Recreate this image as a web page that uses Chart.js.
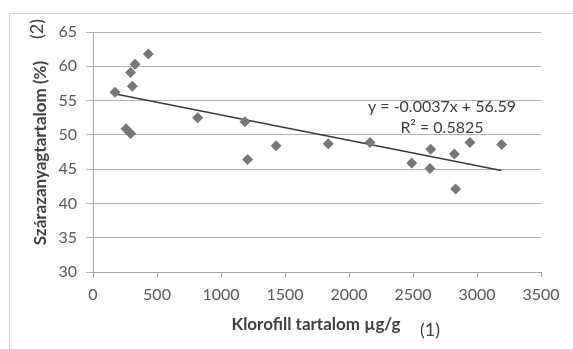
<!DOCTYPE html>
<html>
<head>
<meta charset="utf-8">
<script src="https://cdn.jsdelivr.net/npm/chart.js@4"></script>
<style>
  html, body { margin: 0; padding: 0; background: #fff; }
  #wrap { width: 573px; height: 349px; position: relative; }
</style>
</head>
<body>
<div id="wrap"><canvas id="chart"></canvas></div>
<script>
// chlorophyll (µg/g) vs dry matter (%)
const klorofill = [172, 258, 294, 294, 307, 328, 432, 818, 1187, 1208, 1430, 1838, 2164, 2490, 2633, 2638, 2823, 2833, 2945, 3193];
const szarazanyag = [56.2, 50.9, 50.2, 59.1, 57.1, 60.3, 61.8, 52.5, 51.9, 46.4, 48.4, 48.7, 48.9, 45.9, 45.1, 47.9, 47.2, 42.1, 48.9, 48.6];

// linear trend, endpoints
const trendX = [175, 3190];
const trendY = [55.95, 44.8];

const xTicks = [0, 500, 1000, 1500, 2000, 2500, 3000, 3500];
const yTicks = [30, 35, 40, 45, 50, 55, 60, 65];

const eqLines = ['y = -0.0037x + 56.59', 'R² = 0.5825'];

const FONT = 'Lato, "Open Sans", sans-serif';

const extras = {
    id: 'extras',
    beforeDraw(chart) {
        const c = chart.ctx;
        c.save();
        c.fillStyle = '#fff';
        c.fillRect(0, 0, chart.width, chart.height);
        // outer frame (only top / left visible)
        c.strokeStyle = '#d4d4d4';
        c.lineWidth = 1;
        c.beginPath();
        c.moveTo(9.5, 349);
        c.lineTo(9.5, 13.5);
        c.lineTo(573, 13.5);
        c.stroke();
        c.restore();
    },
    afterDraw(chart) {
        const c = chart.ctx;
        c.save();
        c.fillStyle = '#404040';
        // x title
        c.font = 'bold 17px ' + FONT;
        c.textAlign = 'center';
        c.textBaseline = 'middle';
        c.fillText('Klorofill tartalom µg/g', 316, 325);
        c.font = '18px ' + FONT;
        c.fillText('(1)', 430, 330);
        // y title
        c.translate(41, 153);
        c.rotate(-Math.PI / 2);
        c.font = 'bold 17px ' + FONT;
        c.fillText('Szárazanyagtartalom (%)', 0, 0);
        c.font = '18px ' + FONT;
        c.fillText('(2)', 124, -4);
        c.restore();

        // trendline label
        c.save();
        c.fillStyle = '#404040';
        c.font = '16px ' + FONT;
        c.textAlign = 'center';
        c.textBaseline = 'middle';
        c.fillText(eqLines[0], 442, 107);
        c.fillText(eqLines[1], 442, 128);
        c.restore();
    }
};

new Chart(document.getElementById('chart'), {
    type: 'scatter',
    data: {
        datasets: [
            {
                label: 'adatok',
                data: klorofill.map((x, i) => ({ x: x, y: szarazanyag[i] })),
                pointStyle: 'rectRot',
                pointRadius: 5.5,
                backgroundColor: '#777777',
                borderColor: '#777777',
                borderWidth: 0
            },
            {
                label: 'trend',
                type: 'line',
                data: trendX.map((x, i) => ({ x: x, y: trendY[i] })),
                borderColor: '#3a3a3a',
                borderWidth: 1.5,
                pointRadius: 0,
                fill: false
            }
        ]
    },
    options: {
        responsive: true,
        maintainAspectRatio: false,
        animation: false,
        layout: { padding: { left: 0, top: 32, right: 32, bottom: 0 } },
        plugins: {
            legend: { display: false },
            tooltip: { enabled: false }
        },
        scales: {
            x: {
                type: 'linear',
                min: 0,
                max: 3500,
                afterBuildTicks: s => { s.ticks = xTicks.map(v => ({ value: v })); },
                afterFit: s => { s.height = 77; },
                grid: {
                    drawOnChartArea: false,
                    drawTicks: true,
                    tickLength: 5,
                    color: '#a6a6a6'
                },
                border: { color: '#a6a6a6', width: 1 },
                ticks: {
                    color: '#595959',
                    font: { family: FONT, size: 16 },
                    padding: 8,
                    maxRotation: 0,
                    callback: v => String(v)
                }
            },
            y: {
                min: 30,
                max: 65,
                afterBuildTicks: s => { s.ticks = yTicks.map(v => ({ value: v })); },
                afterFit: s => { s.width = 93; },
                grid: {
                    color: '#b3b3b3',
                    tickLength: 7,
                    lineWidth: 1
                },
                border: { color: '#a6a6a6', width: 1 },
                ticks: {
                    color: '#595959',
                    font: { family: FONT, size: 16 },
                    padding: 9,
                    callback: v => String(v)
                }
            }
        }
    },
    plugins: [extras]
});
</script>
</body>
</html>
